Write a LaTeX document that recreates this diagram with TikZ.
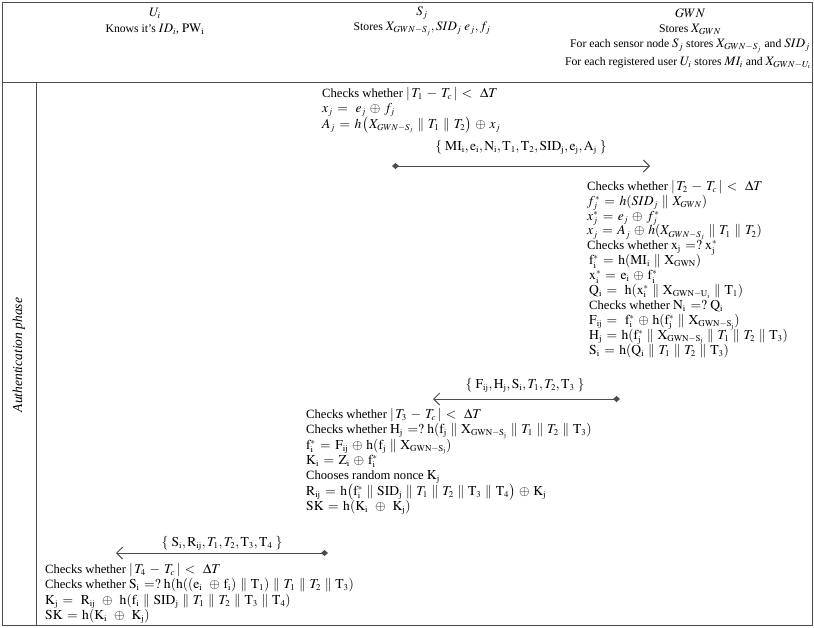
\documentclass[tikz,border=0pt]{standalone}
\usepackage{amsmath,amssymb}
\usepackage{mathptmx}
\usepackage[no-math]{fontspec}
\setmainfont{Liberation Serif}
\usetikzlibrary{arrows.meta}
\DeclareMathSizes{11.7}{12.9}{9.2}{7}
\DeclareMathSizes{12.6}{13.6}{8.9}{6.8}
\medmuskip=5mu plus 2mu minus 2mu
\thickmuskip=6mu plus 3mu
\lineskiplimit=-20pt
\newcommand{\cc}{\mathbin{\|}}
\tikzset{
  rule/.style={draw=black!70, line width=0.8pt},
  hdr/.style={
    inner sep=0pt,
    align=center,
    font=\fontsize{11.7}{15}\selectfont,
  },
  txt/.style={
    anchor=north west,
    inner sep=0pt,
    align=left,
    font=\fontsize{12.6}{15.4}\selectfont,
  },
  tight/.style={txt, font=\fontsize{12.6}{14.9}\selectfont},
  lbl/.style={font=\fontsize{12.6}{14}\selectfont, inner sep=1pt},
  arr/.style={
    {Diamond[length=7pt, width=6pt]}-{Straight Barb[length=6pt, width=12pt]},
    draw=black!70,
    line width=0.9pt,
  },
}

\begin{document}
\begin{tikzpicture}[x=1pt, y=-1pt]
  \useasboundingbox (0,0) rectangle (814,627);

  % frame
  \draw[rule] (2,2) rectangle (812,625);
  \draw[rule] (2,82) -- (812,82);
  \draw[rule] (36,82) -- (36,625);
  \node[rotate=90, font=\fontsize{13.5}{15}\selectfont\itshape] (phase) at (19,355) {Authentication phase};

  % header
  \node[hdr] (ui) at (155,13) {$U_i$};
  \node[hdr] (uikn) at (155,29) {Knows it's $ID_i$, $\mathrm{PW_i}$};
  \node[hdr] (sj) at (422,13) {$S_j$};
  \node[hdr] (sjst) at (422,29) {Stores $X_{GWN-S_j}, SID_j\ e_j, f_j$};
  \node[hdr] (gwn) at (690,13) {$GWN$};
  \node[hdr] (gwnst) at (690,29) {Stores $X_{GWN}$};
  \node[hdr] (gwnsn) at (690,46) {For each sensor node $S_j$ stores $X_{GWN-S_j}$ and $SID_j$};
  \node[hdr] (gwnu) at (688,63) {For each registered user $U_i$ stores $MI_i$ and $X_{GWN-U_i}$};

  % sensor node computes
  \node[txt] (sj1) at (322,87) {Checks whether $|\,T_1 - T_c\,| <\ \Delta T$\\
    $x_j =\ e_j \oplus f_j$\\
    $A_j = h\left(X_{GWN-S_j} \cc T_1 \cc T_2\right) \oplus x_j$};

  \node[lbl] (m1) at (521,147) {$\{\ \mathrm{MI_i, e_i, N_i, T_1, T_2, SID_j, e_j, A_j}\ \}$};
  \coordinate (m1a) at (392,166);
  \coordinate (m1b) at (650,166);
  \draw[arr] (m1a) -- (m1b);

  % gateway computes
  \node[tight] (gw1) at (587,180) {Checks whether $|\,T_2 - T_c\,| <\ \Delta T$\\
    $f_j^* = h(SID_j \cc X_{GWN})$\\
    $x_j^* = e_j \oplus f_j^*$\\
    $x_j = A_j \oplus h(X_{GWN-S_j} \cc T_1 \cc T_2)$\\
    Checks whether $\mathrm{x_j} =?\ \mathrm{x_j^*}$\\
    \hspace{2pt}$\mathrm{f_i^* = h(MI_i \cc X_{GWN})}$\\
    \hspace{2pt}$\mathrm{x_i^* = e_i \oplus f_i^*}$\\
    \hspace{2pt}$\mathrm{Q_i =\ h(x_i^* \cc X_{GWN-U_i} \cc T_1)}$\\
    \hspace{2pt}Checks whether $\mathrm{N_i} =?\ \mathrm{Q_i}$\\
    \hspace{2pt}$\mathrm{F_{ij} =\ f_i^* \oplus h(f_j^* \cc X_{GWN-S_j})}$\\
    \hspace{2pt}$\mathrm{H_j = h(f_j^* \cc X_{GWN-S_j}} \cc T_1 \cc T_2 \cc \mathrm{T_3)}$\\
    \hspace{2pt}$\mathrm{S_i = h(Q_i} \cc T_1 \cc T_2 \cc \mathrm{T_3)}$};

  \node[lbl] (m2) at (525,385) {$\{\ \mathrm{F_{ij}, H_j, S_i}, T_1, T_2, \mathrm{T_3}\ \}$};
  \coordinate (m2a) at (620,399);
  \coordinate (m2b) at (433,399);
  \draw[arr] (m2a) -- (m2b);

  % sensor node verifies
  \node[txt] (sj2) at (306,408) {Checks whether $|\,T_3 - T_c\,| <\ \Delta T$\\
    Checks whether $\mathrm{H_j} =?\ \mathrm{h(f_j \cc X_{GWN-S_j}} \cc T_1 \cc T_2 \cc \mathrm{T_3)}$\\
    $\mathrm{f_i^* = F_{ij} \oplus h(f_j \cc X_{GWN-S_j})}$\\
    $\mathrm{K_i = Z_i \oplus f_i^*}$\\
    Chooses random nonce $\mathrm{K_j}$\\
    $\mathrm{R_{ij} = h\bigl(f_i^* \cc SID_j} \cc T_1 \cc T_2 \cc \mathrm{T_3 \cc T_4\bigr) \oplus K_j}$\\
    $\mathrm{SK = h(K_i\ \oplus\ K_j)}$};

  \node[lbl] (m3) at (222,543) {$\{\ \mathrm{S_i, R_{ij}}, T_1, T_2, \mathrm{T_3, T_4}\ \}$};
  \coordinate (m3a) at (328,553);
  \coordinate (m3b) at (116,553);
  \draw[arr] (m3a) -- (m3b);

  % user verifies
  \node[txt] (ui2) at (45,563) {Checks whether $|\,T_4 - T_c\,| <\ \Delta T$\\
    Checks whether $\mathrm{S_i} =?\ \mathrm{h(h((e_i\ \oplus f_i) \cc T_1)} \cc T_1 \cc T_2 \cc \mathrm{T_3)}$\\
    $\mathrm{K_j =\ R_{ij}\ \oplus\ h(f_i \cc SID_j} \cc T_1 \cc T_2 \cc \mathrm{T_3 \cc T_4)}$\\
    $\mathrm{SK = h(K_i\ \oplus\ K_j)}$};
\end{tikzpicture}
\end{document}
